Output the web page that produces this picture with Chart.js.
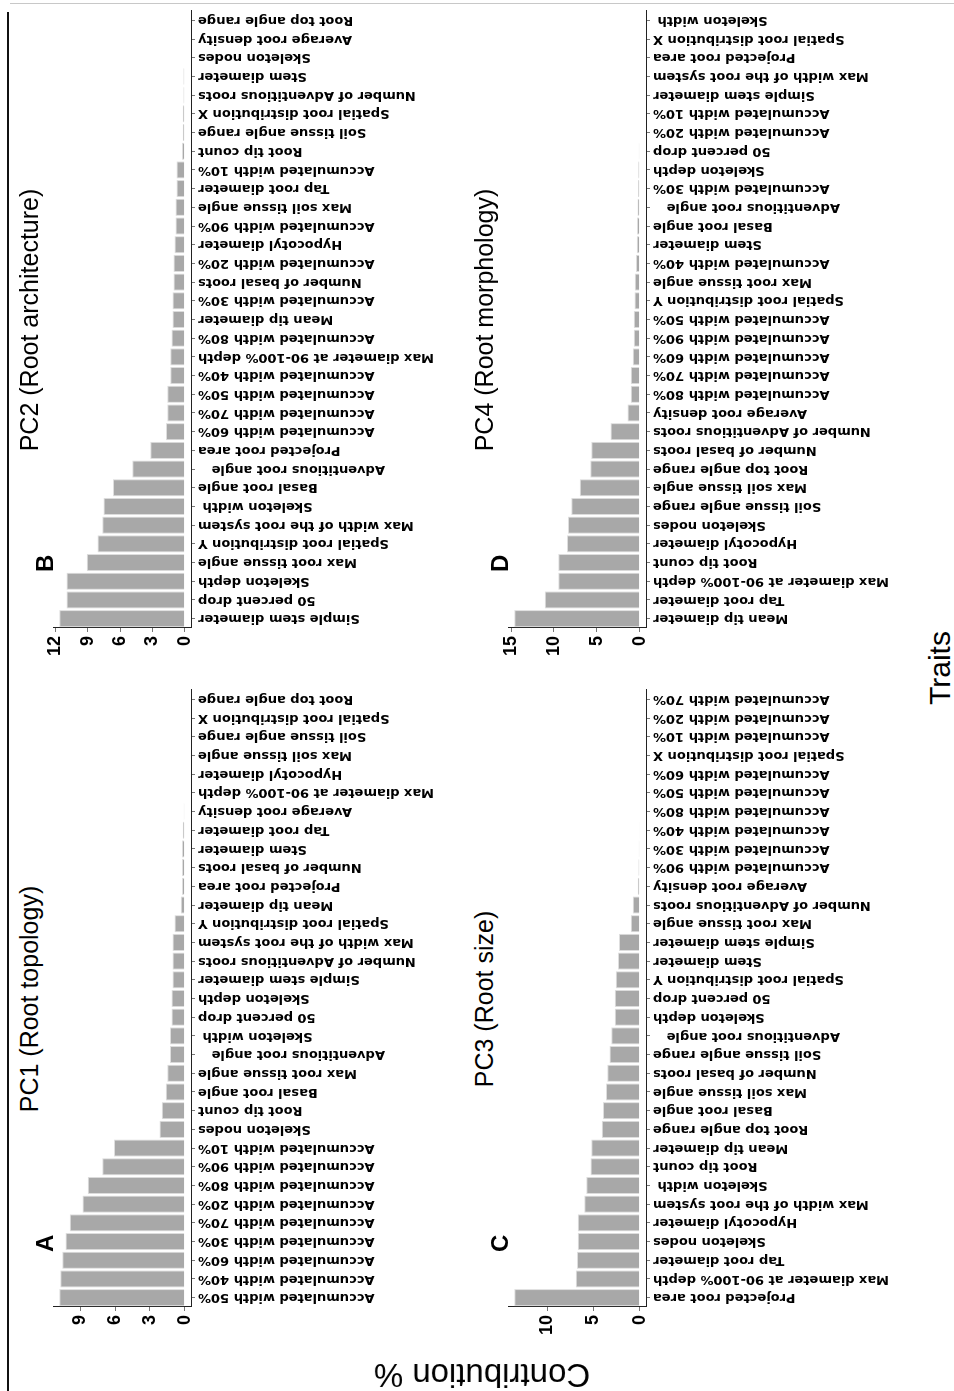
<!DOCTYPE html>
<html><head><meta charset="utf-8">
<script src="https://cdn.jsdelivr.net/npm/chart.js@4.4.1/dist/chart.umd.min.js"></script>
<style>
html,body{margin:0;padding:0;background:#fff;overflow:hidden;width:954px;height:1391px;}
#fig{position:absolute;left:0;top:0;width:1391px;height:954px;transform-origin:0 0;transform:translate(0px,1391px) rotate(-90deg);background:#fff;}
#fig canvas{position:absolute;}
.t{position:absolute;font-family:'Liberation Sans',Arial,sans-serif;color:#000;white-space:nowrap;text-align:center;}
.ttl{font-size:25px;line-height:25px;width:400px;}
.let{font-size:24px;line-height:24px;font-weight:bold;text-align:left;}
</style></head><body>
<div id="fig">
  <div style="position:absolute;left:0;top:7px;width:1379px;height:2px;background:#111"></div>
  <div style="position:absolute;left:1387px;top:10px;width:1px;height:944px;background:#c8c8c8"></div>
  <canvas id="cA" width="703" height="408" style="left:4px;top:43px"></canvas>
  <canvas id="cB" width="703" height="408" style="left:683px;top:43px"></canvas>
  <canvas id="cC" width="703" height="408" style="left:4px;top:498px"></canvas>
  <canvas id="cD" width="703" height="408" style="left:683px;top:498px"></canvas>
  <div class="t ttl" style="left:192px;top:17px">PC1 (Root topology)</div>
  <div class="t ttl" style="left:871px;top:17px">PC2 (Root architecture)</div>
  <div class="t ttl" style="left:192px;top:472px">PC3 (Root size)</div>
  <div class="t ttl" style="left:871px;top:472px">PC4 (Root morphology)</div>
  <div class="t let" style="left:139px;top:33px">A</div>
  <div class="t let" style="left:819px;top:33px">B</div>
  <div class="t let" style="left:139px;top:488px">C</div>
  <div class="t let" style="left:819px;top:488px">D</div>
  <div class="t" style="left:-184px;top:462px;width:400px;height:40px;font-size:33px;line-height:40px;transform:rotate(-90deg);transform-origin:200px 20px;">Contribution %</div>
  <div class="t" style="left:623px;top:925px;width:200px;font-size:30px;line-height:30px;">Traits</div>
</div>
<script>
const catsA = ["Accumulated width 50%","Accumulated width 40%","Accumulated width 60%","Accumulated width 30%","Accumulated width 70%","Accumulated width 20%","Accumulated width 80%","Accumulated width 90%","Accumulated width 10%","Skeleton nodes","Root tip count","Basal root angle","Max root tissue angle","Adventitious root angle   ","Skeleton width ","50 percent drop","Skeleton depth","Simple stem diameter","Number of Adventitious roots","Max width of the root system","Spatial root distribution Y","Mean tip diameter","Projected root area","Number of basal roots","Stem diameter","Tap root diameter","Average root density","Max diameter at 90-100% depth","Hypocotyl diameter","Max soil tissue angle","Soil tissue angle range","Spatial root distribution X","Root top angle range"];
const valsA = [10.8,10.71,10.54,10.26,9.89,8.8,8.34,7.09,6.09,2.17,1.97,1.63,1.51,1.26,1.26,1.14,1.14,1.06,1.06,1.06,0.89,0.34,0.23,0.23,0.23,0.17,0.09,0,0,0,0,0,0];

const catsB = ["Simple stem diameter","50 percent drop","Skeleton depth","Max root tissue angle","Spatial root distribution Y","Max width of the root system","Skeleton width ","Basal root angle","Adventitious root angle   ","Projected root area","Accumulated width 60%","Accumulated width 70%","Accumulated width 50%","Accumulated width 40%","Max diameter at 90-100% depth","Accumulated width 80%","Mean tip diameter","Accumulated width 30%","Number of basal roots","Accumulated width 20%","Hypocotyl diameter","Accumulated width 90%","Max soil tissue angle","Tap root diameter","Accumulated width 10%","Root tip count","Soil tissue angle range","Spatial root distribution X","Number of Adventitious roots","Stem diameter","Skeleton nodes","Average root density","Root top angle range"];
const valsB = [11.65,10.98,10.98,9.1,8.1,7.66,7.54,6.65,4.88,3.21,1.75,1.63,1.63,1.35,1.35,1.23,1.14,1.14,1.05,1.05,0.95,0.86,0.86,0.77,0.77,0.25,0.18,0.18,0.12,0.12,0,0,0];

const catsC = ["Projected root area","Max diameter at 90-100% depth","Tap root diameter","Skeleton nodes","Hypocotyl diameter","Max width of the root system","Skeleton width ","Root tip count","Mean tip diameter","Root top angle range","Basal root angle","Max soil tissue angle","Number of basal roots","Soil tissue angle range","Adventitious root angle   ","Skeleton depth","50 percent drop","Spatial root distribution Y","Stem diameter","Simple stem diameter","Max root tissue angle","Number of Adventitious roots","Average root density","Accumulated width 90%","Accumulated width 30%","Accumulated width 40%","Accumulated width 80%","Accumulated width 50%","Accumulated width 60%","Spatial root distribution X","Accumulated width 10%","Accumulated width 20%","Accumulated width 70%"];
const valsC = [13.53,6.91,6.76,6.69,6.69,5.97,5.76,5.32,5.22,4.1,3.96,3.63,3.49,3.27,3.06,2.7,2.7,2.59,2.34,2.23,0.97,0.76,0.22,0.14,0.11,0.07,0.04,0,0,0,0,0,0];

const catsD = ["Mean tip diameter","Tap root diameter","Max diameter at 90-100% depth","Root tip count","Hypocotyl diameter","Skeleton nodes","Soil tissue angle range","Max soil tissue angle","Root top angle range","Number of basal roots","Number of Adventitious roots","Average root density","Accumulated width 80%","Accumulated width 70%","Accumulated width 60%","Accumulated width 90%","Accumulated width 50%","Spatial root distribution Y","Max root tissue angle","Accumulated width 40%","Stem diameter","Basal root angle","Adventitious root angle   ","Accumulated width 30%","Skeleton depth","50 percent drop","Accumulated width 20%","Accumulated width 10%","Simple stem diameter","Max width of the root system","Projected root area","Spatial root distribution X","Skeleton width "];
const valsD = [14.63,11.09,9.49,9.49,8.48,8.37,7.98,7.0,5.76,5.64,3.42,1.44,1.05,1.05,0.82,0.7,0.7,0.62,0.58,0.43,0.35,0.31,0.27,0.19,0.16,0.12,0,0,0,0,0,0,0];

const ticksA = [0,3,6,9];
const ticksB = [0,3,6,9,12];
const ticksC = [0,5,10];
const ticksD = [0,5,10,15];

const Y_AXIS_W = 80, X_AXIS_H = 260;

function makePanel(id, cats, vals, tickVals){
  const top = Math.max(...vals);
  new Chart(document.getElementById(id), {
    type: 'bar',
    data: { labels: cats, datasets: [{ data: vals, backgroundColor: '#a8a8a8', borderColor: '#dedede', borderWidth: 1, barPercentage: 0.92, categoryPercentage: 1 }] },
    options: {
      responsive: false, animation: false, devicePixelRatio: 1,
      layout: { padding: { top: 10, right: 6, left: 0, bottom: 0 } },
      plugins: { legend: { display: false }, tooltip: { enabled: false } },
      scales: {
        x: {
          grid: { display: true, drawOnChartArea: false, drawTicks: true, tickLength: 4, offset: false, color: '#777', lineWidth: 1 },
          border: { display: true, color: '#222', width: 1 },
          ticks: { autoSkip: false, maxRotation: 90, minRotation: 90, padding: 3, color: '#000', font: { family: 'DejaVu Sans', size: 13, weight: 'bold' } },
          afterFit: s => { s.height = X_AXIS_H; s.paddingLeft = 0; s.paddingRight = 0; }
        },
        y: {
          min: -0.05 * top, max: 1.05 * top,
          afterBuildTicks: s => { s.ticks = tickVals.map(v => ({ value: v })); },
          grid: { display: true, drawOnChartArea: false, drawTicks: true, tickLength: 4, color: '#777' },
          border: { display: true, color: '#222', width: 1 },
          ticks: { padding: 4, color: '#000', font: { family: 'Liberation Sans', size: 18, weight: 'bold' } },
          afterFit: s => { s.width = Y_AXIS_W; s.paddingTop = 0; s.paddingBottom = 0; }
        }
      }
    }
  });
}
makePanel('cA', catsA, valsA, ticksA);
makePanel('cB', catsB, valsB, ticksB);
makePanel('cC', catsC, valsC, ticksC);
makePanel('cD', catsD, valsD, ticksD);
</script>
</body></html>
